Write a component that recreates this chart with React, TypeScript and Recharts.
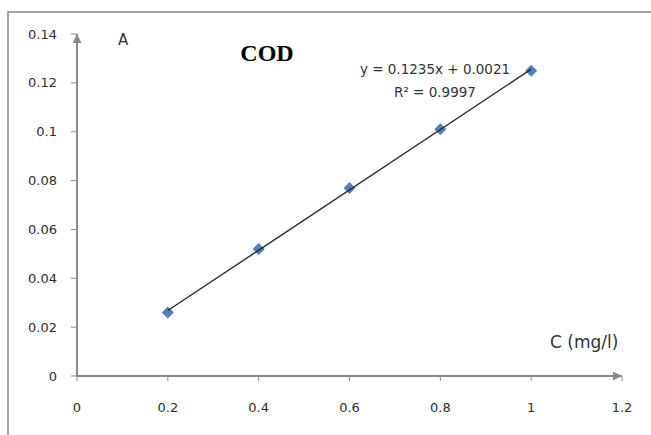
import { ScatterChart, Scatter, XAxis, YAxis } from 'recharts';

const concentrations = [0.2, 0.4, 0.6, 0.8, 1.0];
const absorbance = [0.026, 0.052, 0.077, 0.101, 0.125];
// trendline endpoints read from y = 0.1235x + 0.0021
const trendX = [0.2, 1.0];
const trendY = [0.0268, 0.1256];
const xTicks = [0, 0.2, 0.4, 0.6, 0.8, 1, 1.2];
const yTicks = [0, 0.02, 0.04, 0.06, 0.08, 0.1, 0.12, 0.14];

const points = concentrations.map((x, i) => ({ x, y: absorbance[i] }));
const trend = trendX.map((x, i) => ({ x, y: trendY[i] }));

const fmt = (v: number) => String(+v.toFixed(2));
const tickStyle = { fill: '#2e2e2e', fontSize: 13, fontFamily: 'DejaVu Sans' };
const axisGray = '#8a8a8a';

const W = 651;
const H = 435;

const Diamond = (props: any) => {
  const { cx, cy } = props;
  const r = 6;
  return (
    <polygon
      points={`${cx},${cy - r} ${cx + r},${cy} ${cx},${cy + r} ${cx - r},${cy}`}
      fill="#4F81BD"
    />
  );
};

export default function App() {
  return (
    <div style={{ position: 'fixed', left: 0, top: 0, width: W, height: H, overflow: 'hidden', background: '#fff' }}>
      <div
        style={{
          position: 'absolute',
          left: 7,
          top: 11,
          width: W + 20,
          height: H + 20,
          borderTop: '2px solid #a6a6a6',
          borderLeft: '2px solid #a6a6a6',
          boxSizing: 'border-box',
        }}
      />
      <svg width={0} height={0} style={{ position: 'absolute' }}>
        <defs>
          <marker
            id="arrow"
            viewBox="0 0 10 10"
            refX={10}
            refY={5}
            markerWidth={12}
            markerHeight={9}
            markerUnits="userSpaceOnUse"
            orient="auto-start-reverse"
          >
            <path d="M0,0 L10,5 L0,10 z" fill={axisGray} />
          </marker>
        </defs>
      </svg>
      <ScatterChart
        width={W}
        height={H}
        margin={{ top: 34, right: 29, bottom: 19, left: 17 }}
        style={{ position: 'absolute', left: 0, top: 0 }}
      >
        <XAxis
          type="number"
          dataKey="x"
          domain={[0, 1.2]}
          ticks={xTicks}
          tickFormatter={fmt}
          height={40}
          tickSize={5}
          tickMargin={22}
          tick={tickStyle}
          tickLine={{ stroke: axisGray }}
          axisLine={{ stroke: axisGray, strokeWidth: 2, markerEnd: 'url(#arrow)' }}
        />
        <YAxis
          type="number"
          dataKey="y"
          domain={[0, 0.14]}
          ticks={yTicks}
          tickFormatter={fmt}
          width={60}
          tickSize={6}
          tickMargin={14}
          tick={tickStyle}
          tickLine={{ stroke: axisGray }}
          axisLine={{ stroke: axisGray, strokeWidth: 2, markerStart: 'url(#arrow)' }}
        />
        <Scatter data={points} shape={Diamond} isAnimationActive={false} />
        <Scatter
          data={trend}
          line={{ stroke: '#2b2b2b', strokeWidth: 1.4 }}
          shape={() => <g />}
          isAnimationActive={false}
        />
      </ScatterChart>
      <svg
        width={W}
        height={H}
        style={{ position: 'absolute', left: 0, top: 0, pointerEvents: 'none' }}
      >
        <text x={118} y={40} dominantBaseline="central" fontSize={15} fontFamily="DejaVu Sans" fill="#333">
          A
        </text>
        <text
          x={267}
          y={53}
          textAnchor="middle"
          dominantBaseline="central"
          fontSize={24}
          fontWeight="bold"
          fontFamily="Liberation Serif"
          fill="#000"
        >
          COD
        </text>
        <text x={435} y={69} textAnchor="middle" dominantBaseline="central" fontSize={13.5} fontFamily="DejaVu Sans" fill="#333">
          y = 0.1235x + 0.0021
        </text>
        <text x={435} y={92} textAnchor="middle" dominantBaseline="central" fontSize={13.5} fontFamily="DejaVu Sans" fill="#333">
          R² = 0.9997
        </text>
        <text x={550} y={342} dominantBaseline="central" fontSize={17} fontFamily="DejaVu Sans" fill="#333">
          C (mg/l)
        </text>
      </svg>
    </div>
  );
}
